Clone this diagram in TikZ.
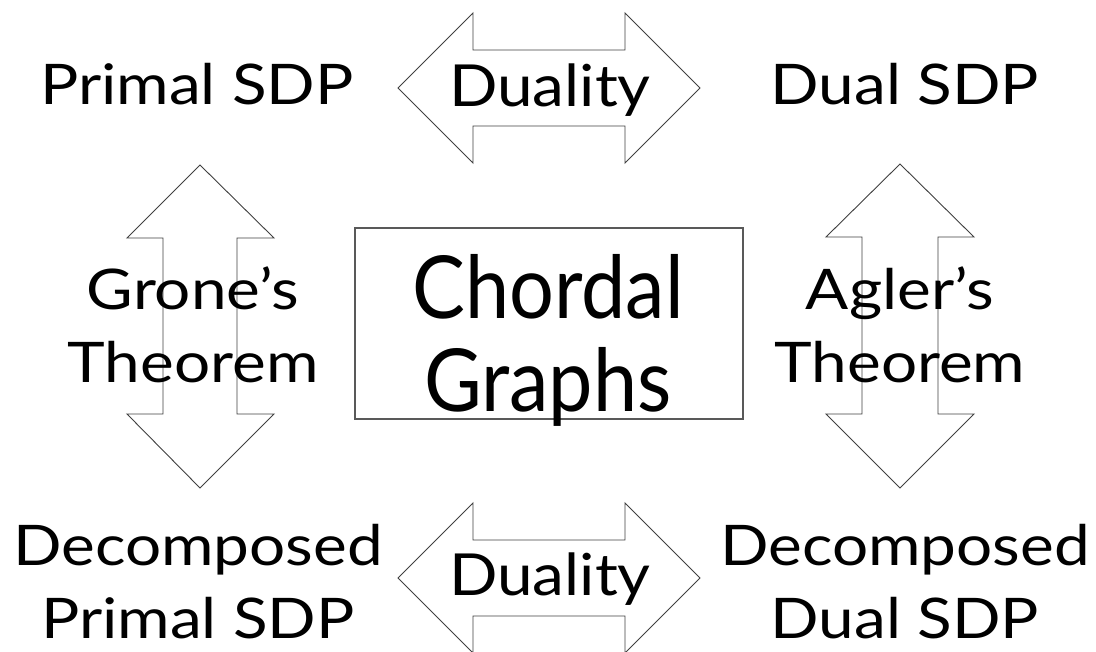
\documentclass[tikz,border=0pt]{standalone}
\usepackage{fontspec}
\setmainfont{Lato}
\newfontfamily\lblfont[FakeStretch=1.14]{Lato}
\newfontfamily\dualfont[FakeStretch=1.10]{Lato}
\newfontfamily\bigfont[FakeStretch=0.91]{Lato}
\begin{document}
\begin{tikzpicture}[x=1pt,y=-1pt,
  blockarrow/.style={draw=black!75,line width=0.9pt,fill=white,line join=miter},
  framebox/.style={draw=black!65,line width=1.2pt},
  lbl/.style={inner sep=0pt,align=center,anchor=base,font=\lblfont\fontsize{56}{73}\selectfont},
  dlbl/.style={inner sep=0pt,anchor=base,font=\dualfont\fontsize{58}{73}\selectfont},
  big/.style={inner sep=0pt,align=center,anchor=base,font=\bigfont\fontsize{87}{93}\selectfont}]
\useasboundingbox (0,0) rectangle (1096,652);

% horizontal double arrows
\draw[blockarrow] (398,88) -- (473,13) -- (473,50) -- (625,50) -- (625,13) -- (700,88)
  -- (625,163) -- (625,126) -- (473,126) -- (473,163) -- cycle;
\draw[blockarrow] (398,578) -- (473,503) -- (473,540) -- (625,540) -- (625,503) -- (700,578)
  -- (625,653) -- (625,616) -- (473,616) -- (473,653) -- cycle;

% vertical double arrows
\draw[blockarrow] (200,165) -- (274,238) -- (237,238) -- (237,414) -- (274,414) -- (200,488)
  -- (127,414) -- (163,414) -- (163,238) -- (127,238) -- cycle;
\draw[blockarrow] (900,164) -- (974,237) -- (938,237) -- (938,414) -- (974,414) -- (900,488)
  -- (826,414) -- (862,414) -- (862,237) -- (826,237) -- cycle;

% central box
\draw[framebox] (355,228) rectangle (743,419);

% labels (multi-line nodes are anchored at the baseline of their last line)
\node[lbl] (primal) at (197,105) {Primal SDP};
\node[lbl] (dual) at (905,105) {Dual SDP};
\node[lbl] (dprimal) at (198,638) {Decomposed\\Primal SDP};
\node[lbl] (ddual) at (905,638) {Decomposed\\Dual SDP};
\node[lbl] (grone) at (193,383) {Grone’s\\Theorem};
\node[lbl] (agler) at (900,383) {Agler’s\\Theorem};
\node[big] (chordal) at (548,412) {Chordal\\Graphs};
\node[dlbl] (dtop) at (550,107) {Duality};
\node[dlbl] (dbot) at (550,595) {Duality};
\end{tikzpicture}
\end{document}
